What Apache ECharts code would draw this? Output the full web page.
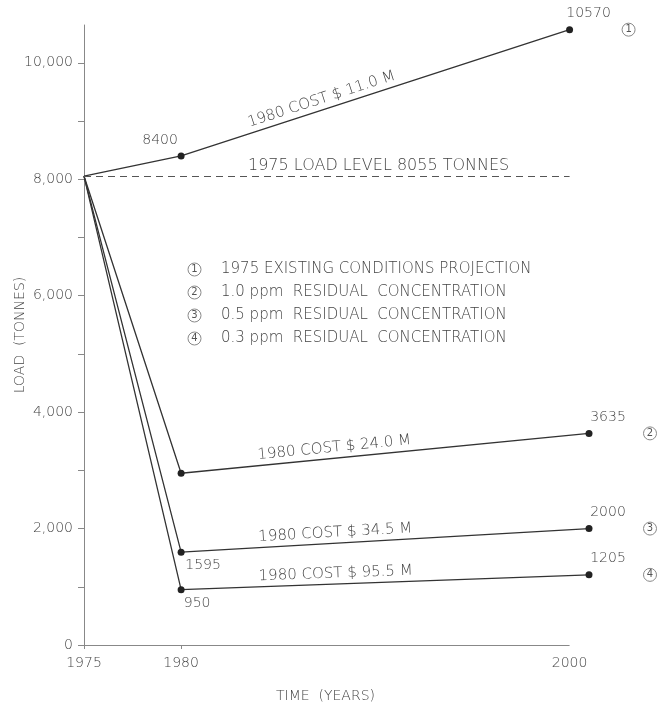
<!DOCTYPE html>
<html>
<head>
<meta charset="utf-8">
<script src="https://cdn.jsdelivr.net/npm/echarts@6/dist/echarts.min.js"></script>
<style>
html, body { margin: 0; background: #fff; }
#chart { width: 659px; height: 708px; }
</style>
</head>
<body>
<div id="chart"></div>
<script>
// time axis
const years = [1975, 1980, 2000];
// the three lower curves are drawn a little past the 2000 tick in the original
const yearsLower = [1975, 1980, 2001];
const xStart = 1975;
const xEnd = 2000;
const load1975 = 8055;

const seriesNames = [
	'1975 EXISTING CONDITIONS PROJECTION',
	'1.0 ppm  RESIDUAL  CONCENTRATION',
	'0.5 ppm  RESIDUAL  CONCENTRATION',
	'0.3 ppm  RESIDUAL  CONCENTRATION'
];
const loadExisting = [8055, 8400, 10570];
const load10ppm = [8055, 2950, 3635];
const load05ppm = [8055, 1595, 2000];
const load03ppm = [8055, 950, 1205];
const costLabels = ['1980 COST $ 11.0 M', '1980 COST $ 24.0 M', '1980 COST $ 34.5 M', '1980 COST $ 95.5 M'];
// which points get their value written next to them
const showValue = [
	[false, true, true],
	[false, false, true],
	[false, true, true],
	[false, true, true]
];

const yTicks = [0, 1000, 2000, 3000, 4000, 5000, 6000, 7000, 8000, 9000, 10000];
const yLabels = [0, 2000, 4000, 6000, 8000, 10000];
const xLabels = [1975, 1980, 2000];
const xTicks = [1975, 1980];

const FONT = 'DejaVu Sans';
const INK = '#444';
const AXIS = '#888';

const circled = {
	width: 13, height: 13, lineHeight: 13, align: 'center',
	borderColor: AXIS, borderWidth: 1, borderRadius: 7,
	fontSize: 10, color: '#555', fontFamily: FONT
};

function makeSeries(idx, xs, ys) {
	const data = ys.map((y, i) => {
		let item = { value: [xs[i], y] };
		if (i == 0) item.symbol = 'none';
		if (showValue[idx][i]) {
			let lab = { show: true, fontSize: 14, color: INK, fontFamily: FONT, fontWeight: 300 };
			if (i == 1 && idx == 0) {
				lab.position = 'top'; lab.offset = [-21, 0];
			} else if (i == 1) {
				lab.position = 'bottom'; lab.offset = [idx == 2 ? 22 : 16, -2];
			} else {
				lab.position = 'top'; lab.offset = [19, -1];
			}
			item.label = lab;
		}
		return item;
	});
	return {
		name: seriesNames[idx],
		type: 'line',
		symbol: 'circle',
		symbolSize: 7,
		itemStyle: { color: '#222' },
		lineStyle: { color: '#333', width: 1.3 },
		label: { formatter: p => p.value[1] },
		// circled curve number right of the end point
		markPoint: {
			silent: true,
			symbol: 'circle',
			symbolSize: 0,
			label: {
				show: true,
				position: 'inside',
				offset: [idx == 0 ? 59 : 61, 0],
				formatter: '{c|' + (idx + 1) + '}',
				rich: { c: circled }
			},
			data: [{ coord: [xs[2], ys[2]] }]
		},
		// cost written along the 1980-2000 segment
		markLine: {
			silent: true,
			symbol: 'none',
			lineStyle: { color: 'rgba(0,0,0,0)' },
			label: {
				position: 'insideStartTop',
				distance: [idx == 0 ? 74 : 78, 3],
				formatter: costLabels[idx],
				fontSize: 15, color: INK, fontFamily: FONT, fontWeight: 300
			},
			data: [[
				{ coord: [xs[1], ys[1]] },
				{ coord: [xs[2], ys[2]] }
			]]
		},
		data: data
	};
}

let series = [
	makeSeries(0, years, loadExisting),
	makeSeries(1, yearsLower, load10ppm),
	makeSeries(2, yearsLower, load05ppm),
	makeSeries(3, yearsLower, load03ppm)
];

// 1975 load level, dashed from 1975 to 2000
series[0].markLine.data.push([
	{
		coord: [xStart, load1975],
		lineStyle: { color: '#555', width: 1.2, type: [7, 5] },
		label: {
			position: 'insideStartTop',
			distance: [164, 2],
			formatter: '1975 LOAD LEVEL 8055 TONNES',
			fontSize: 16, color: INK, fontFamily: FONT, fontWeight: 300
		}
	},
	{ coord: [xEnd, load1975] }
]);
// time axis baseline stops at 2000
series[0].markLine.data.push([
	{ coord: [xStart, 0], lineStyle: { color: AXIS, width: 1, type: 'solid' }, label: { show: false } },
	{ coord: [xEnd, 0] }
]);

const myChart = echarts.init(document.getElementById('chart'));
myChart.setOption({
	animation: false,
	grid: { left: 84, right: 70, top: 25, bottom: 63, outerBoundsMode: 'none', containLabel: false },
	legend: {
		orient: 'vertical',
		left: 178,
		top: 257,
		icon: 'none',
		itemWidth: 0,
		itemGap: 8,
		selectedMode: false,
		data: seriesNames,
		formatter: name => '{c|' + (seriesNames.indexOf(name) + 1) + '}{t|' + name + '}',
		textStyle: {
			rich: {
				c: circled,
				t: { fontSize: 15, lineHeight: 16, color: INK, fontFamily: FONT, fontWeight: 300, padding: [0, 0, 0, 20] }
			}
		}
	},
	xAxis: {
		type: 'value',
		min: 1975,
		max: 2001,
		name: 'TIME  (YEARS)',
		nameLocation: 'middle',
		nameGap: 44,
		nameMoveOverlap: false,
		nameTextStyle: { fontSize: 14, color: INK, fontFamily: FONT, fontWeight: 300, padding: [0, 22, 0, 0] },
		splitLine: { show: false },
		axisLine: { show: false },
		axisTick: { show: true, customValues: xTicks, length: 4, lineStyle: { color: AXIS } },
		axisLabel: {
			customValues: xLabels,
			margin: 11,
			fontSize: 14, color: INK, fontFamily: FONT, fontWeight: 300,
			formatter: v => String(v)
		}
	},
	yAxis: {
		type: 'value',
		min: 0,
		max: 10650,
		name: 'LOAD  (TONNES)',
		nameLocation: 'middle',
		nameGap: 57,
		nameRotate: 90,
		nameMoveOverlap: false,
		nameTextStyle: { fontSize: 14, color: INK, fontFamily: FONT, fontWeight: 300 },
		splitLine: { show: false },
		axisLine: { show: true, lineStyle: { color: AXIS, width: 1 } },
		axisTick: { show: true, customValues: yTicks, length: 6, lineStyle: { color: AXIS } },
		axisLabel: {
			customValues: yLabels,
			margin: 11,
			fontSize: 14, color: INK, fontFamily: FONT, fontWeight: 300,
			formatter: v => v.toLocaleString('en-US')
		}
	},
	series: series
});
</script>
</body>
</html>
